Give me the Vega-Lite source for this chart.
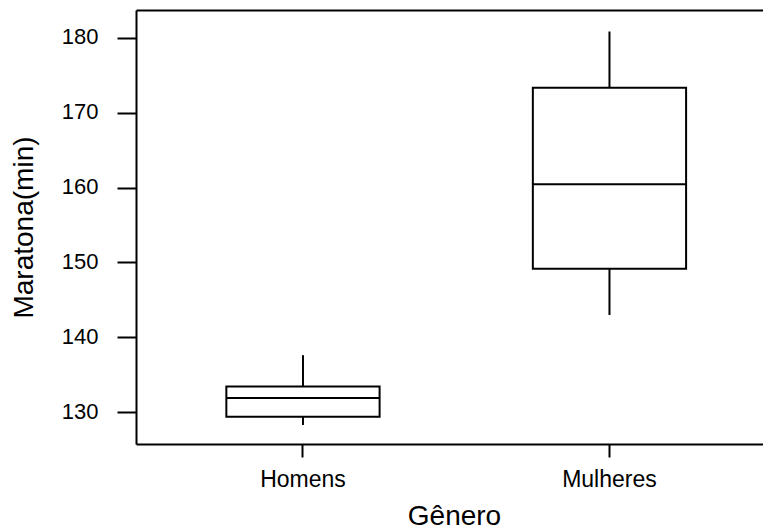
{
  "$schema": "https://vega.github.io/schema/vega-lite/v6.json",
  "autosize": "none",
  "padding": {"left": 136, "top": 10, "right": 0, "bottom": 86},
  "width": 627,
  "height": 434,
  "background": "white",
  "data": {
    "values": [
      {"genero": "Homens", "lower": 128.3, "q1": 129.41, "median": 131.89, "q3": 133.45, "upper": 137.62},
      {"genero": "Mulheres", "lower": 142.99, "q1": 149.18, "median": 160.45, "q3": 173.32, "upper": 180.86}
    ]
  },
  "config": {
    "view": {"stroke": null},
    "axis": {
      "labelFont": "Liberation Sans",
      "titleFont": "Liberation Sans",
      "labelColor": "black",
      "titleColor": "black",
      "tickColor": "black",
      "domainColor": "black",
      "tickWidth": 2,
      "domainWidth": 2,
      "grid": false,
      "titleFontWeight": "normal",
      "titleFontSize": 28
    }
  },
  "resolve": {"axis": {"x": "independent"}},
  "layer": [
    {
      "mark": {"type": "rule", "color": "black", "strokeWidth": 2},
      "encoding": {
        "x": {
          "field": "genero", "type": "nominal", "sort": ["Homens", "Mulheres"],
          "scale": {"type": "band", "paddingInner": 0, "paddingOuter": 0.02284, "align": 0.98},
          "axis": {
            "orient": "bottom", "title": "Gênero", "labelAngle": 0, "labelFontSize": 23,
            "labelPadding": 11, "tickSize": 13, "titleX": 318, "titleY": 80,
            "titleBaseline": "alphabetic", "titleAnchor": null, "titleAlign": "center"
          }
        },
        "y": {
          "field": "lower", "type": "quantitative", "title": "Maratona(min)",
          "scale": {"domain": [125.76, 183.72], "nice": false, "zero": false},
          "axis": {
            "values": [130, 140, 150, 160, 170, 180], "labelFontSize": 22,
            "labelPadding": 19, "tickSize": 19, "labelOffset": -1,
            "titleX": -104, "titleBaseline": "alphabetic"
          }
        },
        "y2": {"field": "upper"}
      }
    },
    {
      "mark": {"type": "bar", "fill": "white", "stroke": "black", "strokeWidth": 2, "width": {"band": 0.5}},
      "encoding": {
        "x": {
          "field": "genero", "type": "nominal", "sort": ["Homens", "Mulheres"],
          "scale": {"type": "band", "paddingInner": 0, "paddingOuter": 0.02284, "align": 0.98},
          "axis": {"orient": "top", "labels": false, "ticks": false, "title": null, "domain": true}
        },
        "y": {"field": "q1", "type": "quantitative", "title": "Maratona(min)"},
        "y2": {"field": "q3"}
      }
    },
    {
      "mark": {"type": "tick", "color": "black", "size": 153, "thickness": 2, "opacity": 1},
      "encoding": {
        "x": {
          "field": "genero", "type": "nominal", "sort": ["Homens", "Mulheres"],
          "scale": {"type": "band", "paddingInner": 0, "paddingOuter": 0.02284, "align": 0.98},
          "axis": null
        },
        "y": {"field": "median", "type": "quantitative", "title": "Maratona(min)"}
      }
    }
  ]
}
